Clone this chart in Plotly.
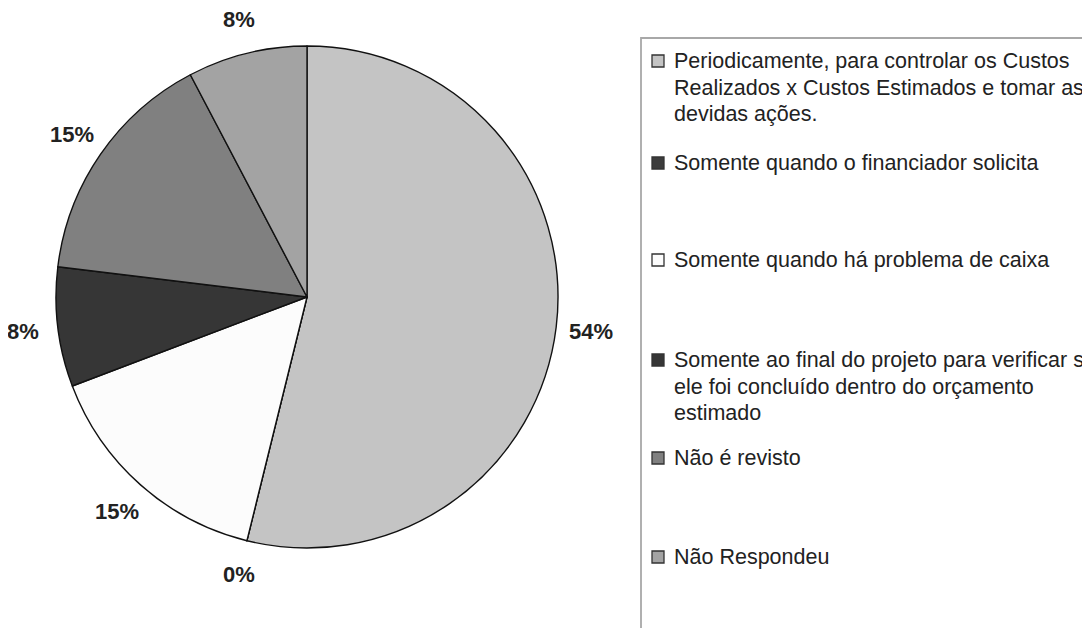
import math
import plotly.graph_objects as go

# ---- data ----
categories = [
    "Periodicamente, para controlar os Custos Realizados x Custos Estimados e tomar as devidas ações.",
    "Somente quando o financiador solicita",
    "Somente quando há problema de caixa",
    "Somente ao final do projeto para verificar se ele foi concluído dentro do orçamento estimado",
    "Não é revisto",
    "Não Respondeu",
]
legend_lines = [
    ["Periodicamente, para controlar os Custos", "Realizados x Custos Estimados e tomar as", "devidas ações."],
    ["Somente quando o financiador solicita"],
    ["Somente quando há problema de caixa"],
    ["Somente ao final do projeto para verificar se", "ele foi concluído dentro do orçamento", "estimado"],
    ["Não é revisto"],
    ["Não Respondeu"],
]
values = [7, 0, 2, 1, 2, 1]
colors = ["#c4c4c4", "#3c3c3c", "#fcfcfc", "#363636", "#808080", "#a3a3a3"]

W, H = 1090, 628
OFF = 8  # the page body margin shifts the figure by 8px; compensate


def px(x):
    return (x - OFF) / W


def py(y):
    return 1 - (y - OFF) / H


cx, cy, R = 307, 297, 251  # pie centre / radius in page pixels

fig = go.Figure()
fig.add_trace(go.Pie(
    labels=categories,
    values=values,
    sort=False,
    direction="clockwise",
    rotation=0,
    marker=dict(colors=colors, line=dict(color="#111111", width=1.4)),
    textinfo="none",
    hoverinfo="label+percent",
    showlegend=False,
    domain=dict(x=[px(cx - R), px(cx + R)], y=[py(cy + R), py(cy - R)]),
))

total = sum(values)
annotations = []
shapes = []
cum = 0.0
label_r = 286
for v in values:
    mid = (cum + v / 2) / total * 2 * math.pi
    cum += v
    lx = cx + label_r * math.sin(mid)
    ly = cy - label_r * math.cos(mid)
    annotations.append(dict(
        x=px(lx), y=py(ly), xref="paper", yref="paper",
        text=f"<b>{round(v / total * 100)}%</b>", showarrow=False,
        xanchor="center", yanchor="middle",
        font=dict(family="Liberation Sans, Arial, sans-serif", size=22, color="#222222"),
    ))

# legend box (extends past the right and bottom edges as in the reference)
shapes.append(dict(type="rect", xref="paper", yref="paper",
                   x0=px(641), x1=1.1, y0=-0.1, y1=py(38),
                   line=dict(color="#a8a8a8", width=1.8), fillcolor="rgba(0,0,0,0)"))

item_y = [61, 163, 260, 360, 458, 557]
line_gap = 26.5
for i, lines in enumerate(legend_lines):
    y0 = item_y[i]
    shapes.append(dict(type="rect", xref="paper", yref="paper",
                       x0=px(652), x1=px(664),
                       y0=py(y0 + 6), y1=py(y0 - 6),
                       fillcolor=colors[i], line=dict(color="#333333", width=1.3)))
    for j, t in enumerate(lines):
        yy = y0 + j * line_gap
        annotations.append(dict(
            x=px(672), y=py(yy), xref="paper", yref="paper",
            text=t, showarrow=False, xanchor="left", yanchor="middle",
            font=dict(family="Liberation Sans, Arial, sans-serif", size=21.5, color="#222222"),
        ))

fig.update_layout(
    width=W, height=H,
    margin=dict(l=0, r=0, t=0, b=0),
    paper_bgcolor="white", plot_bgcolor="white",
    annotations=annotations, shapes=shapes,
    showlegend=False,
)
fig.write_html("out.html")
